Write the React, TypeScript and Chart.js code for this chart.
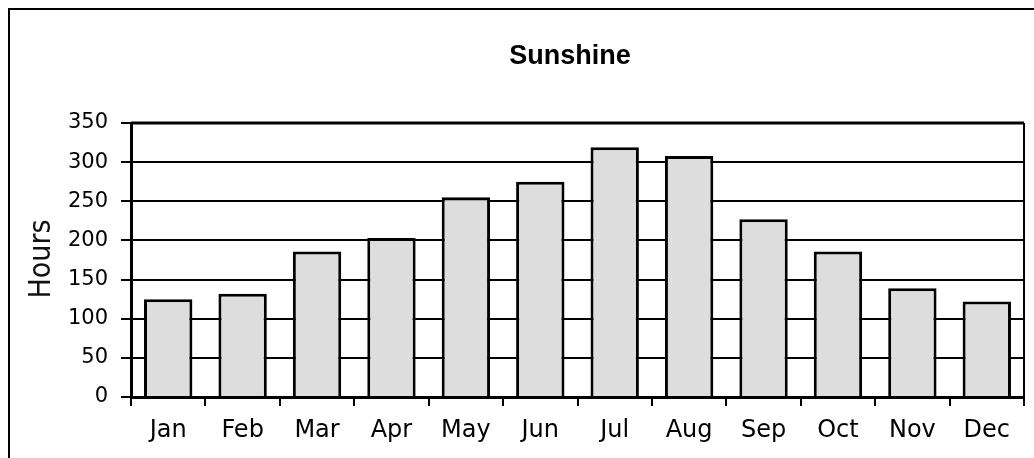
import React, { useEffect, useRef } from "react";
import { Chart, registerables } from "chart.js";

Chart.register(...registerables);

const months = ["Jan", "Feb", "Mar", "Apr", "May", "Jun", "Jul", "Aug", "Sep", "Oct", "Nov", "Dec"];
const hours = [125, 132, 186, 203, 255, 275, 319, 308, 227, 186, 139, 122];
const chartTitle = "Sunshine";
const yTitle = "Hours";

const decorPlugin = {
  id: "decor",
  beforeDraw(chart: any) {
    const ctx = chart.ctx;
    ctx.save();
    ctx.fillStyle = "#ffffff";
    ctx.fillRect(0, 0, chart.width, chart.height);
    ctx.restore();
  },
  afterDraw(chart: any) {
    const ctx = chart.ctx;
    const a = chart.chartArea;
    ctx.save();
    ctx.strokeStyle = "#000";
    ctx.lineWidth = 2;
    ctx.strokeRect(9, 9, chart.width + 50, chart.height + 50);
    ctx.lineWidth = 3;
    ctx.beginPath();
    ctx.moveTo(a.left, a.top);
    ctx.lineTo(a.right, a.top);
    ctx.stroke();
    ctx.lineWidth = 2;
    ctx.beginPath();
    ctx.moveTo(a.right, a.top);
    ctx.lineTo(a.right, a.bottom);
    ctx.stroke();
    ctx.fillStyle = "#000";
    ctx.font = "bold 27px 'Liberation Sans', Arial, sans-serif";
    ctx.textAlign = "center";
    ctx.textBaseline = "alphabetic";
    ctx.fillText(chartTitle, 570, 64);
    ctx.translate(50, 259);
    ctx.rotate(-Math.PI / 2);
    ctx.font = "30px 'Liberation Sans Narrow', 'DejaVu Sans Condensed', sans-serif";
    ctx.fillStyle = "#111";
    ctx.fillText(yTitle, 0, 0);
    ctx.restore();
  },
};

export default function App() {
  const ref = useRef<HTMLCanvasElement>(null);
  useEffect(() => {
    if (!ref.current) return;
    const chart = new Chart(ref.current, {
      type: "bar",
      data: {
        labels: months,
        datasets: [
          {
            data: hours,
            backgroundColor: "#dddddd",
            borderColor: "#000",
            borderWidth: 3,
            categoryPercentage: 1,
            barPercentage: 0.65,
          },
        ],
      },
      options: {
        animation: false,
        responsive: false,
        layout: { padding: { top: 123, right: 10, left: 0, bottom: 0 } },
        plugins: { legend: { display: false }, title: { display: false }, tooltip: { enabled: false } },
        scales: {
          x: {
            afterFit(scale: any) {
              scale.height = 61;
            },
            grid: {
              display: true,
              drawOnChartArea: false,
              offset: true,
              tickLength: 9,
              lineWidth: 2,
              color: "#000",
            },
            border: { color: "#000", width: 3 },
            ticks: {
              color: "#000",
              padding: 10,
              font: { family: "'DejaVu Sans', sans-serif", size: 24 },
              maxRotation: 0,
            },
          },
          y: {
            min: 0,
            max: 350,
            afterFit(scale: any) {
              scale.width = 131;
            },
            grid: { color: "#000", lineWidth: 2, tickLength: 10 },
            border: { color: "#000", width: 3 },
            ticks: {
              stepSize: 50,
              color: "#000",
              padding: 13,
              font: { family: "'DejaVu Sans', sans-serif", size: 21 },
            },
          },
        },
      },
      plugins: [decorPlugin],
    });
    return () => chart.destroy();
  }, []);
  return (
    <div style={{ position: "fixed", left: 0, top: 0, width: 1034, height: 458, overflow: "hidden", background: "#fff" }}>
      <canvas ref={ref} width={1034} height={458} style={{ display: "block" }} />
    </div>
  );
}
